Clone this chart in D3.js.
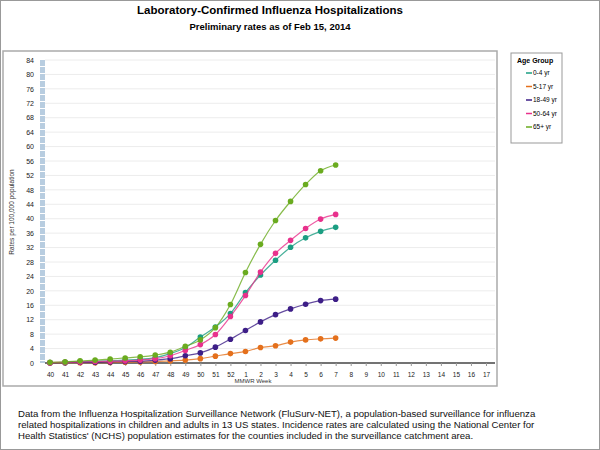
<!DOCTYPE html>
<html><head><meta charset="utf-8">
<script src="https://cdn.jsdelivr.net/npm/d3@7"></script>
<style>body{margin:0;background:#fff;font-family:Arial,"Liberation Sans",sans-serif}</style>
</head><body>
<script>
// week categories (MMWR)
const weeks = ["40","41","42","43","44","45","46","47","48","49","50","51","52","1","2","3","4","5","6","7","8","9","10","11","12","13","14","15","16","17"];
const yTicks = d3.range(0, 85, 4);
const groups = ["0-4 yr", "5-17 yr", "18-49 yr", "50-64 yr", "65+ yr"];
const colors = ["#1b9e82", "#e4701c", "#3d1e87", "#e8318c", "#6aab1f"];
const rate0_4 = [0.1,0.2,0.4,0.5,0.6,0.8,1.0,1.5,2.6,4.3,7.2,10.0,13.7,19.5,24.4,28.5,32.1,34.7,36.5,37.6];
const rate5_17 = [0,0.05,0.1,0.1,0.15,0.2,0.3,0.4,0.6,0.8,1.2,1.9,2.6,3.2,4.3,4.8,5.8,6.4,6.7,6.9];
const rate18_49 = [0.05,0.1,0.2,0.2,0.3,0.4,0.5,0.8,1.2,2.0,2.8,4.4,6.6,9.0,11.4,13.4,15.0,16.3,17.3,17.7];
const rate50_64 = [0.1,0.2,0.3,0.4,0.5,0.6,0.8,1.2,2.0,3.5,5.1,7.9,12.9,18.7,25.2,30.4,34.0,37.3,39.9,41.2];
const rate65 = [0.2,0.3,0.6,0.8,1.1,1.4,1.7,2.2,3.0,4.6,6.4,9.8,16.2,25.1,32.9,39.5,44.8,49.5,53.3,54.9];
const series = [rate0_4, rate5_17, rate18_49, rate50_64, rate65];

var svg = d3.select("body").append("svg").attr("width", 600).attr("height", 450);
svg.append("rect").attr("x", 0.5).attr("y", 0.5).attr("width", 599).attr("height", 449)
   .style("fill", "none").style("stroke", "#999");

svg.append("text").attr("x", 270).attr("y", 14).attr("text-anchor", "middle")
   .attr("font-size", 11.5).attr("font-weight", "bold").text("Laboratory-Confirmed Influenza Hospitalizations");
svg.append("text").attr("x", 270).attr("y", 30).attr("text-anchor", "middle")
   .attr("font-size", 9.5).attr("font-weight", "bold").text("Preliminary rates as of Feb 15, 2014");

// chart frame
svg.append("rect").attr("x", 3).attr("y", 51).attr("width", 494).attr("height", 335)
   .style("fill", "none").style("stroke", "#aaa").style("stroke-width", 1.5);

var x = d3.scalePoint().domain(weeks).range([50, 486]);
var y = d3.scaleLinear().domain([0, 84]).range([363, 60]);

// gridlines
svg.append("g").selectAll("line").data(yTicks.slice(1)).join("line")
   .attr("x1", 45).attr("x2", 495).attr("y1", d => y(d)).attr("y2", d => y(d))
   .style("stroke", "#ececec");

// blue dashed bar along the axis
svg.append("line").attr("x1", 42.5).attr("x2", 42.5).attr("y1", y(84)).attr("y2", y(0))
   .style("stroke", "#b8cde0").style("stroke-width", 5).style("stroke-dasharray", "6,1");

var yAxis = svg.append("g").attr("transform", "translate(38,0)")
   .call(d3.axisLeft(y).tickValues(yTicks).tickSize(0).tickPadding(4));
yAxis.select(".domain").remove();
yAxis.selectAll("text").attr("font-size", 7).style("fill", "#222");

var xAxis = svg.append("g").attr("transform", "translate(0," + y(0) + ")")
   .call(d3.axisBottom(x).tickSize(3).tickPadding(6).tickSizeOuter(0));
xAxis.select(".domain").attr("d", "M45,0H495").style("stroke", "#444").style("stroke-width", 1.5);
xAxis.selectAll("line").style("stroke", "#999");
xAxis.selectAll("text").attr("font-size", 6.5).style("fill", "#222");

svg.append("text").attr("x", 253).attr("y", 383).attr("text-anchor", "middle")
   .attr("font-size", 6).style("fill", "#333").text("MMWR Week");
svg.append("text").attr("transform", "translate(14,212) rotate(-90)").attr("text-anchor", "middle")
   .attr("font-size", 6.5).style("fill", "#333").text("Rates per 100,000 population");

var line = d3.line().x((d, i) => x(weeks[i])).y(d => y(d)).curve(d3.curveMonotoneX);
series.forEach(function (s, k) {
    svg.append("path").datum(s).attr("d", line)
       .style("fill", "none").style("stroke", colors[k]).style("stroke-width", 1.2).style("opacity", 0.8);
    svg.append("g").selectAll("circle").data(s).join("circle")
       .attr("cx", (d, i) => x(weeks[i])).attr("cy", d => y(d)).attr("r", 2.8)
       .style("fill", colors[k]);
});

// legend
var lg = svg.append("g");
lg.append("rect").attr("x", 511).attr("y", 53).attr("width", 51).attr("height", 90)
  .style("fill", "#fff").style("stroke", "#999");
lg.append("text").attr("x", 517).attr("y", 63).attr("font-size", 7).attr("font-weight", "bold").text("Age Group");
groups.forEach(function (g, k) {
    var yy = 75 + k * 13.5;
    lg.append("line").attr("x1", 526).attr("x2", 532).attr("y1", yy - 2).attr("y2", yy - 2)
      .style("stroke", colors[k]).style("stroke-width", 1.5);
    lg.append("text").attr("x", 533).attr("y", yy).attr("font-size", 6.5).text(g);
});

// footer note
var note = ["Data from the Influenza  Hospitalization Surveillance Network (FluSurv-NET),  a population-based surveillance  for influenza",
            "related hospitalizations in children and adults in 13 US states. Incidence rates are calculated using the National Center for",
            "Health Statistics' (NCHS) population estimates for the counties included in the surveillance catchment area."];
svg.append("g").selectAll("text").data(note).join("text")
   .attr("x", 18).attr("y", (d, i) => 417 + i * 11).attr("font-size", 9.6).style("fill", "#111").text(d => d);
</script>
</body></html>
